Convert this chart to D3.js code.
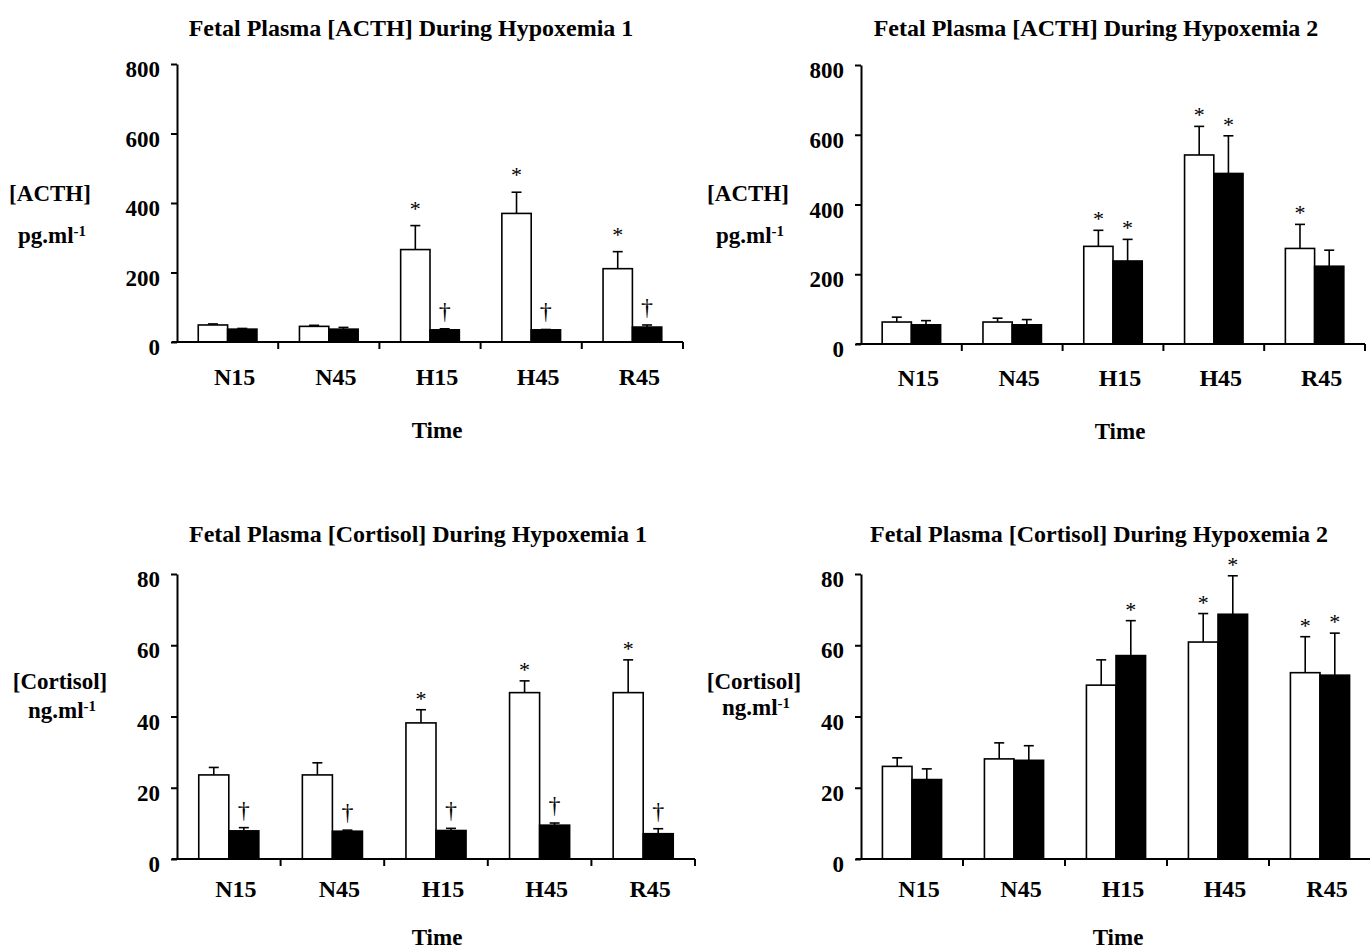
<!DOCTYPE html>
<html><head><meta charset="utf-8">
<script src="https://cdn.jsdelivr.net/npm/d3@7"></script>
<style>
body{margin:0;background:#fff}
svg text{font-family:"Liberation Serif","Times New Roman",serif;font-weight:bold;fill:#000}
</style>
</head><body><svg id="c" width="1370" height="951"></svg>
<script>
// ---------- data ----------
const categories = ["N15", "N45", "H15", "H45", "R45"];
const acthTicks = [0, 200, 400, 600, 800];
const cortisolTicks = [0, 20, 40, 60, 80];

// ACTH, Hypoxemia 1
const acth1Open = [49, 45, 266, 370, 211];
const acth1OpenSE = [3, 3, 69, 61, 49];
const acth1Filled = [37, 37, 35, 35, 43];
const acth1FilledSE = [2, 5, 3, 1, 6];
const acth1OpenMarks = ["", "", "*", "*", "*"];
const acth1FilledMarks = ["", "", "†", "†", "†"];

// ACTH, Hypoxemia 2
const acth2Open = [63, 63, 280, 542, 274];
const acth2OpenSE = [14, 11, 46, 82, 69];
const acth2Filled = [55, 55, 238, 489, 223];
const acth2FilledSE = [12, 15, 62, 108, 46];
const acth2OpenMarks = ["", "", "*", "*", "*"];
const acth2FilledMarks = ["", "", "*", "*", ""];

// Cortisol, Hypoxemia 1
const cort1Open = [23.6, 23.6, 38.2, 46.7, 46.7];
const cort1OpenSE = [2.1, 3.4, 3.7, 3.3, 9.2];
const cort1Filled = [7.9, 7.8, 8.0, 9.5, 7.1];
const cort1FilledSE = [0.9, 0.3, 0.6, 0.6, 1.4];
const cort1OpenMarks = ["", "", "*", "*", "*"];
const cort1FilledMarks = ["†", "†", "†", "†", "†"];

// Cortisol, Hypoxemia 2
const cort2Open = [26.0, 28.1, 48.8, 60.9, 52.3];
const cort2OpenSE = [2.4, 4.5, 7.1, 8.0, 10.1];
const cort2Filled = [22.3, 27.7, 57.1, 68.7, 51.6];
const cort2FilledSE = [3.0, 4.1, 9.8, 10.8, 11.8];
const cort2OpenMarks = ["", "", "", "*", "*"];
const cort2FilledMarks = ["", "", "*", "*", "*"];

// ---------- drawing ----------
const svg = d3.select("#c");

function drawPanel(p) {
  const g = svg.append("g");
  const x = d3.scaleBand().domain(categories).range([p.x0, p.x1]).padding(0);
  const y = d3.scaleLinear().domain([0, p.ticks[p.ticks.length - 1]]).range([p.yBot, p.yTop]);
  const bw = x.bandwidth() * 0.29;
  const mid = c => x(c) + x.bandwidth() / 2;

  // title
  g.append("text").attr("x", p.titleX).attr("y", p.titleY)
    .attr("text-anchor", "middle").style("font-size", "24px").text(p.title);

  // y labels
  g.append("text").attr("x", p.labX).attr("y", p.lab1Y)
    .attr("text-anchor", "middle").style("font-size", "23px").text(p.label1);
  const t2 = g.append("text").attr("x", p.labX + 2).attr("y", p.lab2Y)
    .attr("text-anchor", "middle").style("font-size", "23px");
  t2.append("tspan").text(p.label2);
  t2.append("tspan").attr("dy", "-0.45em").style("font-size", "15px").text("-1");

  const series = [
    { v: p.open, e: p.openSE, m: p.openMarks, fill: "#fff", off: -1 },
    { v: p.filled, e: p.filledSE, m: p.filledMarks, fill: "#000", off: 0 }
  ];

  series.forEach(s => {
    const rows = categories.map((c, i) => ({ c, v: s.v[i], e: s.e[i], m: s.m[i] }));
    const cx = d => mid(d.c) + s.off * bw + bw / 2;
    // error bars
    g.append("g").selectAll("line").data(rows).join("line")
      .attr("x1", cx).attr("x2", cx)
      .attr("y1", d => y(d.v)).attr("y2", d => y(d.v + d.e))
      .attr("stroke", "#000").attr("stroke-width", 1.6);
    g.append("g").selectAll("line").data(rows).join("line")
      .attr("x1", d => cx(d) - 5).attr("x2", d => cx(d) + 5)
      .attr("y1", d => y(d.v + d.e)).attr("y2", d => y(d.v + d.e))
      .attr("stroke", "#000").attr("stroke-width", 1.6);
    // bars
    g.append("g").selectAll("rect").data(rows).join("rect")
      .attr("x", d => mid(d.c) + s.off * bw)
      .attr("width", bw)
      .attr("y", d => y(d.v))
      .attr("height", d => y(0) - y(d.v))
      .attr("fill", s.fill).attr("stroke", "#000").attr("stroke-width", 1.6);
    // significance marks
    g.append("g").selectAll("text").data(rows.filter(d => d.m)).join("text")
      .attr("x", cx)
      .attr("y", d => d.m === "*"
        ? y(d.v + d.e) - p.starOff + 10
        : y(d.v + d.e) - p.dagOff + 6)
      .attr("text-anchor", "middle")
      .style("font-size", d => d.m === "*" ? "22px" : "24px")
      .style("font-weight", "normal")
      .text(d => d.m);
  });

  // y axis
  const ya = g.append("g").attr("transform", `translate(${p.x0},0)`)
    .call(d3.axisLeft(y).tickValues(p.ticks).tickSize(6).tickSizeOuter(0).tickPadding(11));
  ya.attr("font-family", null).attr("font-size", null);
  ya.selectAll("path,line").attr("stroke", "#000").attr("stroke-width", 2);
  ya.selectAll("text").style("font-size", "23px").attr("dy", "0.55em");

  // x axis
  g.append("line").attr("x1", p.x0 - 5).attr("x2", p.x1)
    .attr("y1", y(0)).attr("y2", y(0)).attr("stroke", "#000").attr("stroke-width", 2);
  const bounds = categories.slice(1).map(c => x(c)).concat([p.x1]);
  g.append("g").selectAll("line").data(bounds).join("line")
    .attr("x1", d => d).attr("x2", d => d)
    .attr("y1", y(0)).attr("y2", y(0) + 7)
    .attr("stroke", "#000").attr("stroke-width", 2);
  g.append("g").selectAll("text").data(categories).join("text")
    .attr("x", c => mid(c) + 7).attr("y", p.catY)
    .attr("text-anchor", "middle").style("font-size", "24px").text(c => c);

  g.append("text").attr("x", p.timeX).attr("y", p.timeY)
    .attr("text-anchor", "middle").style("font-size", "23px").text("Time");
}

drawPanel({
  title: "Fetal Plasma [ACTH] During Hypoxemia 1", titleX: 411, titleY: 36,
  label1: "[ACTH]", label2: "pg.ml", labX: 50, lab1Y: 201, lab2Y: 243,
  x0: 177, x1: 683, yTop: 64, yBot: 342, ticks: acthTicks,
  open: acth1Open, openSE: acth1OpenSE, filled: acth1Filled, filledSE: acth1FilledSE,
  openMarks: acth1OpenMarks, filledMarks: acth1FilledMarks,
  starOff: 20, dagOff: 16, catY: 385, timeX: 437, timeY: 438
});
drawPanel({
  title: "Fetal Plasma [ACTH] During Hypoxemia 2", titleX: 1096, titleY: 36,
  label1: "[ACTH]", label2: "pg.ml", labX: 748, lab1Y: 201, lab2Y: 243,
  x0: 861, x1: 1365, yTop: 65, yBot: 344, ticks: acthTicks,
  open: acth2Open, openSE: acth2OpenSE, filled: acth2Filled, filledSE: acth2FilledSE,
  openMarks: acth2OpenMarks, filledMarks: acth2FilledMarks,
  starOff: 14, dagOff: 16, catY: 386, timeX: 1120, timeY: 439
});
drawPanel({
  title: "Fetal Plasma [Cortisol] During Hypoxemia 1", titleX: 418, titleY: 542,
  label1: "[Cortisol]", label2: "ng.ml", labX: 60, lab1Y: 689, lab2Y: 718,
  x0: 177, x1: 695, yTop: 574, yBot: 859, ticks: cortisolTicks,
  open: cort1Open, openSE: cort1OpenSE, filled: cort1Filled, filledSE: cort1FilledSE,
  openMarks: cort1OpenMarks, filledMarks: cort1FilledMarks,
  starOff: 14, dagOff: 16, catY: 897, timeX: 437, timeY: 945
});
drawPanel({
  title: "Fetal Plasma [Cortisol] During Hypoxemia 2", titleX: 1099, titleY: 542,
  label1: "[Cortisol]", label2: "ng.ml", labX: 754, lab1Y: 689, lab2Y: 715,
  x0: 861, x1: 1371, yTop: 574, yBot: 859, ticks: cortisolTicks,
  open: cort2Open, openSE: cort2OpenSE, filled: cort2Filled, filledSE: cort2FilledSE,
  openMarks: cort2OpenMarks, filledMarks: cort2FilledMarks,
  starOff: 14, dagOff: 16, catY: 897, timeX: 1118, timeY: 945
});
</script>
</body></html>
